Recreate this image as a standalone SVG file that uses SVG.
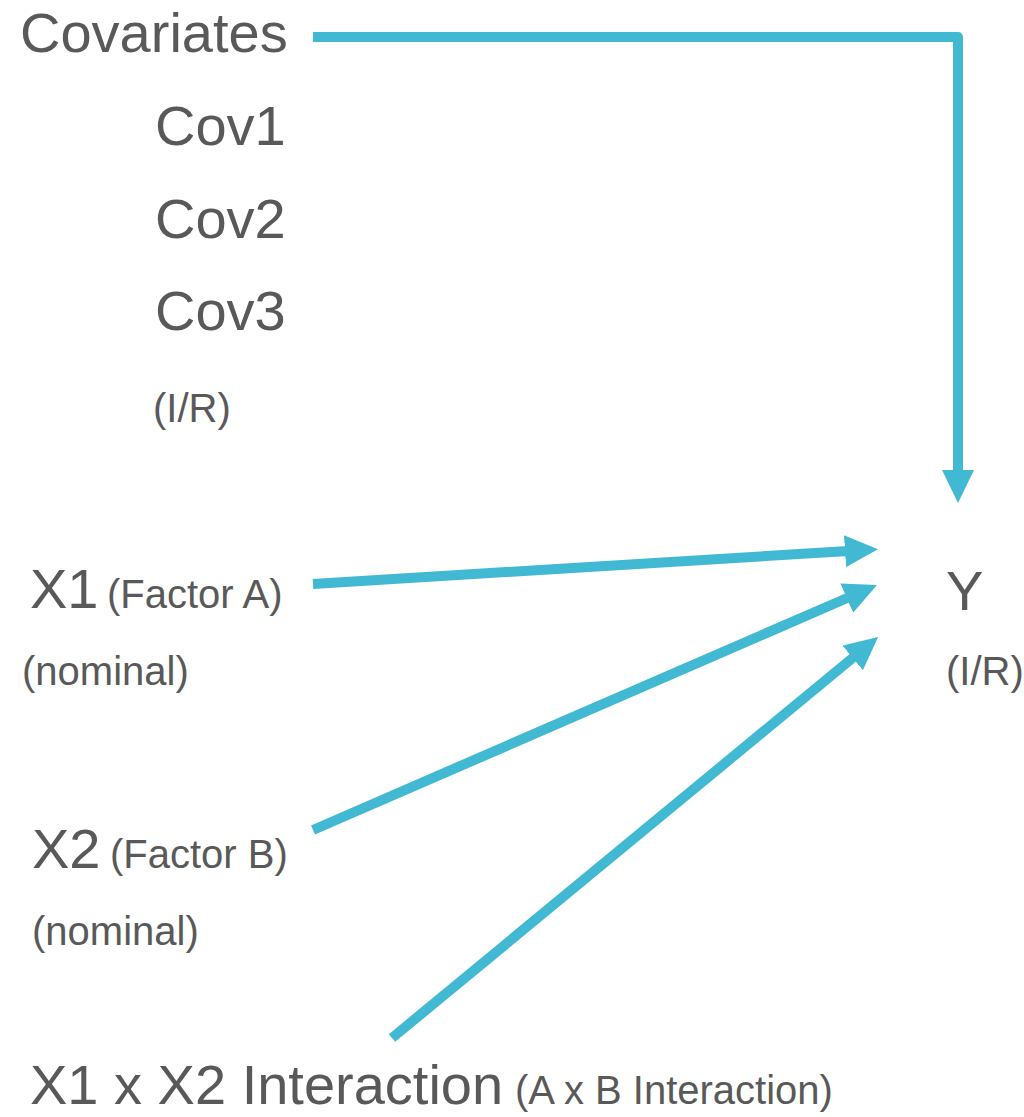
<svg xmlns="http://www.w3.org/2000/svg" width="1024" height="1117" viewBox="0 0 1024 1117">
<style>
.t{font-family:"Liberation Sans",Arial,sans-serif;fill:#595959}
.big{font-size:56px}
.mid{font-size:40px}
.c{fill:none;stroke:#41B9D3;stroke-width:10;stroke-linejoin:round}
</style>
<defs>
<marker id="ah" viewBox="0 -16 33 32" markerWidth="33" markerHeight="32" refX="3" refY="0" orient="auto" markerUnits="userSpaceOnUse">
<path d="M0,-16 L33,0 L0,16 z" fill="#41B9D3"/>
</marker>
</defs>
<rect width="1024" height="1117" fill="#fff"/>
<g id="connectors">
<path class="c" d="M313,37 H958 V473" marker-end="url(#ah)"/>
<path class="c" d="M313,584 L848,551" marker-end="url(#ah)"/>
<path class="c" d="M313,830 L849.5,597" marker-end="url(#ah)"/>
<path class="c" d="M392,1038 L855,656" marker-end="url(#ah)"/>
</g>
<g id="covariates">
<text class="t big" x="20" y="52">Covariates</text>
<text class="t big" x="155" y="145">Cov1</text>
<text class="t big" x="155" y="238">Cov2</text>
<text class="t big" x="155" y="330">Cov3</text>
<text class="t mid" x="153" y="422">(I/R)</text>
</g>
<g id="x1">
<text class="t big" x="30" y="608">X1</text>
<text class="t mid" x="107" y="608">(Factor A)</text>
<text class="t mid" x="22" y="685">(nominal)</text>
</g>
<g id="x2">
<text class="t big" x="32" y="868">X2</text>
<text class="t mid" x="110" y="868">(Factor B)</text>
<text class="t mid" x="32" y="945">(nominal)</text>
</g>
<g id="interaction">
<text class="t big" x="30" y="1104">X1 x X2 Interaction</text>
<text class="t mid" x="515" y="1104">(A x B Interaction)</text>
</g>
<g id="y">
<text class="t big" x="946" y="610">Y</text>
<text class="t mid" x="946" y="685">(I/R)</text>
</g>
</svg>
